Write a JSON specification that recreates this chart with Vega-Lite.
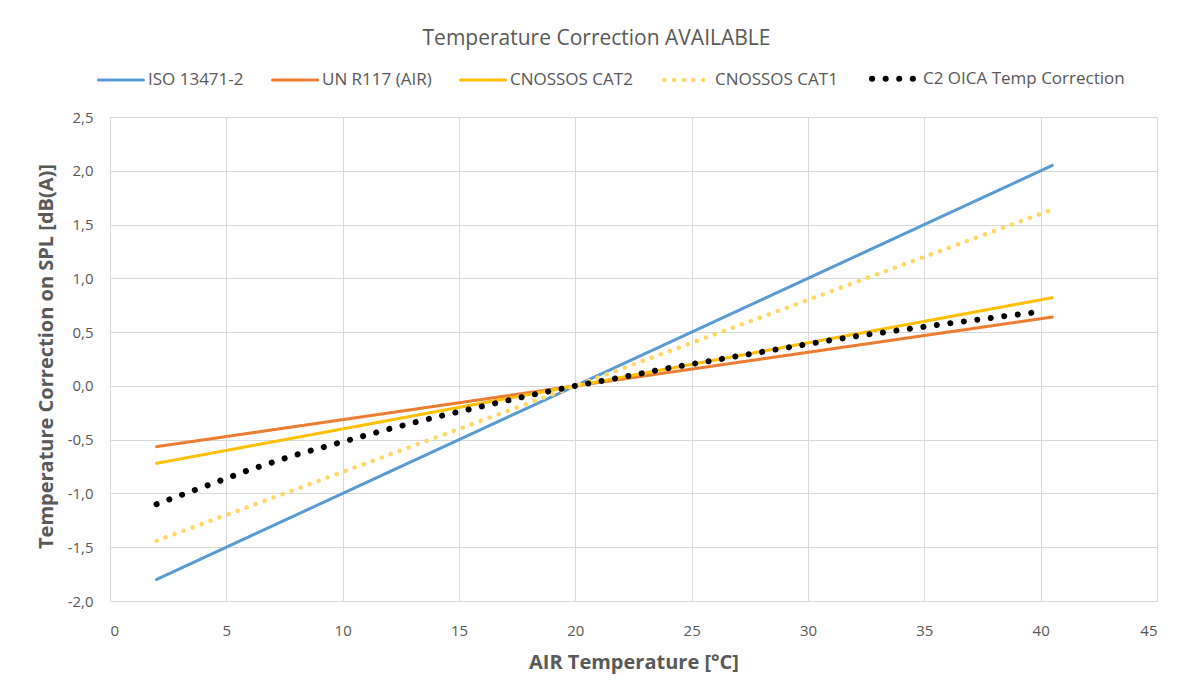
{
  "$schema": "https://vega.github.io/schema/vega-lite/v6.json",
  "autosize": "none",
  "width": 1047,
  "height": 484,
  "padding": {"left": 110, "top": 117, "right": 27, "bottom": 94},
  "background": "white",
  "title": {
    "text": "Temperature Correction AVAILABLE",
    "fontSize": 21,
    "fontWeight": "normal",
    "color": "#595959",
    "anchor": "middle",
    "frame": "group",
    "dx": -37,
    "offset": -7,
    "baseline": "middle"
  },
  "config": {
    "font": "Open Sans",
    "view": {"stroke": null},
    "locale": {"number": {"decimal": ",", "thousands": ".", "grouping": [3], "currency": ["", " €"], "minus": "-"}}
  },
  "data": {
    "values": [
      {"series": "ISO 13471-2", "T": 2, "v": -1.8},
      {"series": "ISO 13471-2", "T": 20, "v": 0},
      {"series": "ISO 13471-2", "T": 40.5, "v": 2.05},
      {"series": "UN R117 (AIR)", "T": 2, "v": -0.565},
      {"series": "UN R117 (AIR)", "T": 20, "v": 0},
      {"series": "UN R117 (AIR)", "T": 40.5, "v": 0.64},
      {"series": "CNOSSOS CAT2", "T": 2, "v": -0.72},
      {"series": "CNOSSOS CAT2", "T": 20, "v": 0},
      {"series": "CNOSSOS CAT2", "T": 40.5, "v": 0.82},
      {"series": "CNOSSOS CAT1", "T": 2, "v": -1.44},
      {"series": "CNOSSOS CAT1", "T": 20, "v": 0},
      {"series": "CNOSSOS CAT1", "T": 40.5, "v": 1.64},
      {"series": "C2 OICA Temp Correction", "T": 2, "v": -1.1},
      {"series": "C2 OICA Temp Correction", "T": 4, "v": -0.94},
      {"series": "C2 OICA Temp Correction", "T": 6, "v": -0.78},
      {"series": "C2 OICA Temp Correction", "T": 8, "v": -0.64},
      {"series": "C2 OICA Temp Correction", "T": 10, "v": -0.52},
      {"series": "C2 OICA Temp Correction", "T": 12, "v": -0.4},
      {"series": "C2 OICA Temp Correction", "T": 14, "v": -0.29},
      {"series": "C2 OICA Temp Correction", "T": 16, "v": -0.19},
      {"series": "C2 OICA Temp Correction", "T": 18, "v": -0.09},
      {"series": "C2 OICA Temp Correction", "T": 20, "v": 0},
      {"series": "C2 OICA Temp Correction", "T": 22, "v": 0.08},
      {"series": "C2 OICA Temp Correction", "T": 24, "v": 0.165},
      {"series": "C2 OICA Temp Correction", "T": 26, "v": 0.24},
      {"series": "C2 OICA Temp Correction", "T": 28, "v": 0.315},
      {"series": "C2 OICA Temp Correction", "T": 30, "v": 0.39},
      {"series": "C2 OICA Temp Correction", "T": 32, "v": 0.46},
      {"series": "C2 OICA Temp Correction", "T": 34, "v": 0.52},
      {"series": "C2 OICA Temp Correction", "T": 36, "v": 0.58},
      {"series": "C2 OICA Temp Correction", "T": 38, "v": 0.635},
      {"series": "C2 OICA Temp Correction", "T": 40, "v": 0.69}
    ]
  },
  "mark": {"type": "line", "strokeCap": "round", "clip": false},
  "encoding": {
    "x": {
      "field": "T",
      "type": "quantitative",
      "scale": {"domain": [0, 45], "nice": false, "zero": false},
      "axis": {
        "title": "AIR Temperature [°C]",
        "values": [0, 5, 10, 15, 20, 25, 30, 35, 40, 45],
        "format": "d",
        "ticks": false,
        "labelPadding": 22,
        "labelFontSize": 15,
        "labelColor": "#595959",
        "domainColor": "#D9D9D9",
        "gridColor": "#D9D9D9",
        "titleFontSize": 20,
        "titleFontWeight": "bold",
        "titleColor": "#595959",
        "titleY": 61,
        "titleBaseline": "middle"
      }
    },
    "y": {
      "field": "v",
      "type": "quantitative",
      "scale": {"domain": [-2, 2.5], "nice": false, "zero": false},
      "axis": {
        "title": "Temperature Correction on SPL [dB(A)]",
        "values": [-2, -1.5, -1, -0.5, 0, 0.5, 1, 1.5, 2, 2.5],
        "format": ".1f",
        "ticks": false,
        "labelPadding": 17,
        "labelFontSize": 15,
        "labelColor": "#595959",
        "domainColor": "#D9D9D9",
        "gridColor": "#D9D9D9",
        "titleFontSize": 20,
        "titleFontWeight": "bold",
        "titleColor": "#595959",
        "titleX": -64,
        "titleY": 239,
        "titleAngle": 270,
        "titleAlign": "center",
        "titleBaseline": "middle"
      }
    },
    "color": {
      "field": "series",
      "type": "nominal",
      "scale": {
        "domain": ["ISO 13471-2", "UN R117 (AIR)", "CNOSSOS CAT2", "CNOSSOS CAT1", "C2 OICA Temp Correction"],
        "range": ["#5B9BD5", "#ED7D31", "#FFC000", "#FFD966", "#000000"]
      },
      "legend": {
        "title": null,
        "orient": "none",
        "legendX": -13,
        "legendY": -64,
        "direction": "horizontal",
        "symbolType": "stroke",
        "symbolSize": 2025,
        "labelFontSize": 17,
        "labelColor": "#595959",
        "labelOffset": 3,
        "labelLimit": 0,
        "columnPadding": 22,
        "encode": {"symbols": {"update": {"strokeCap": {"value": "round"}}}}
      }
    },
    "strokeDash": {
      "field": "series",
      "type": "nominal",
      "scale": {
        "domain": ["ISO 13471-2", "UN R117 (AIR)", "CNOSSOS CAT2", "CNOSSOS CAT1", "C2 OICA Temp Correction"],
        "range": [[1, 0], [1, 0], [1, 0], [0.1, 9.5], [0.1, 13.5]]
      }
    },
    "strokeWidth": {
      "field": "series",
      "type": "nominal",
      "scale": {
        "type": "ordinal",
        "domain": ["ISO 13471-2", "UN R117 (AIR)", "CNOSSOS CAT2", "CNOSSOS CAT1", "C2 OICA Temp Correction"],
        "range": [3, 3, 3, 4.5, 6]
      }
    }
  }
}
